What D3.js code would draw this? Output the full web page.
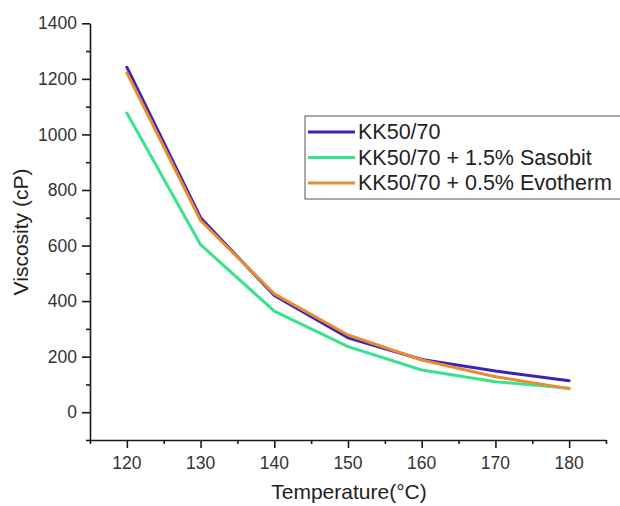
<!DOCTYPE html>
<html>
<head>
<meta charset="utf-8">
<script src="https://cdn.jsdelivr.net/npm/d3@7"></script>
<style>
  html, body { margin: 0; padding: 0; background: #fff; }
  svg { display: block; font-family: "Liberation Sans", Arial, sans-serif; }
</style>
</head>
<body>
<svg id="chart" width="620" height="506"></svg>
<script>
// Viscosity of binder blends versus temperature
const temperatures = [120, 130, 140, 150, 160, 170, 180];
const seriesNames = ["KK50/70", "KK50/70 + 1.5% Sasobit", "KK50/70 + 0.5% Evotherm"];
const viscosityBase = [1242, 700, 420, 268, 190, 148, 113];
const viscositySasobit = [1077, 603, 364, 236, 152, 110, 86];
const viscosityEvotherm = [1222, 690, 426, 278, 188, 128, 85];
const seriesColors = ["#3b24b3", "#38e38c", "#e88b34"];
const xTicks = [120, 130, 140, 150, 160, 170, 180];
const yTicks = [0, 200, 400, 600, 800, 1000, 1200, 1400];

const series = [viscosityBase, viscositySasobit, viscosityEvotherm].map((vals, i) => ({
  name: seriesNames[i],
  color: seriesColors[i],
  points: vals.map((v, j) => ({ t: temperatures[j], v }))
}));

const svg = d3.select("#chart");
const x = d3.scaleLinear().domain([115, 185]).range([90, 606]);
const y = d3.scaleLinear().domain([-100, 1400]).range([440, 23.3]);

// Lines
const line = d3.line().x(d => x(d.t)).y(d => y(d.v));
svg.append("g").selectAll("path").data(series).join("path")
  .attr("d", d => line(d.points))
  .attr("fill", "none")
  .attr("stroke", d => d.color)
  .attr("stroke-width", 3)
  .attr("stroke-linejoin", "round")
  .attr("stroke-linecap", "round");

// Axes
const axisColor = "#1a1a1a";
const gx = svg.append("g").attr("transform", `translate(0,${y(-100)})`);
gx.call(d3.axisBottom(x).tickValues(d3.range(115, 186, 5)).tickFormat("").tickSize(4).tickSizeOuter(0));
gx.call(g => g.selectAll(".tick").filter(d => xTicks.includes(d)).select("line").attr("y2", 8));
gx.append("g").selectAll("text").data(xTicks).join("text")
  .attr("x", d => x(d)).attr("y", 29)
  .attr("text-anchor", "middle")
  .attr("font-size", 17.5).attr("fill", "#333")
  .text(d => d);

const gy = svg.append("g").attr("transform", `translate(${x(115)},0)`);
gy.call(d3.axisLeft(y).tickValues(d3.range(-100, 1401, 100)).tickFormat("").tickSize(4).tickSizeOuter(0));
gy.call(g => g.selectAll(".tick").filter(d => yTicks.includes(d)).select("line").attr("x2", -8));
gy.append("g").selectAll("text").data(yTicks).join("text")
  .attr("x", -13).attr("y", d => y(d)).attr("dy", "0.35em")
  .attr("text-anchor", "end")
  .attr("font-size", 17.5).attr("fill", "#333")
  .text(d => d);

svg.selectAll(".domain").attr("stroke", axisColor).attr("stroke-width", 1.6);
svg.selectAll(".tick line").attr("stroke", axisColor).attr("stroke-width", 1.6);

// Axis titles
svg.append("text")
  .attr("x", 349).attr("y", 499)
  .attr("text-anchor", "middle")
  .attr("font-size", 21).attr("fill", "#222")
  .text("Temperature(°C)");

svg.append("text")
  .attr("transform", "translate(28,232) rotate(-90)")
  .attr("text-anchor", "middle")
  .attr("font-size", 21).attr("fill", "#222")
  .text("Viscosity (cP)");

// Legend
const legend = svg.append("g").attr("transform", "translate(305,116)");
legend.append("rect")
  .attr("x", 0).attr("y", 0).attr("width", 318).attr("height", 83)
  .attr("fill", "#fff").attr("stroke", "#555").attr("stroke-width", 1);
const rows = legend.selectAll("g.row").data(series).join("g")
  .attr("class", "row")
  .attr("transform", (d, i) => `translate(0,${16 + i * 25.5})`);
rows.append("line")
  .attr("x1", 3).attr("x2", 50)
  .attr("stroke", d => d.color).attr("stroke-width", 3);
rows.append("text")
  .attr("x", 53).attr("y", 7)
  .attr("font-size", 21.5).attr("fill", "#222")
  .text(d => d.name);
</script>
</body>
</html>
